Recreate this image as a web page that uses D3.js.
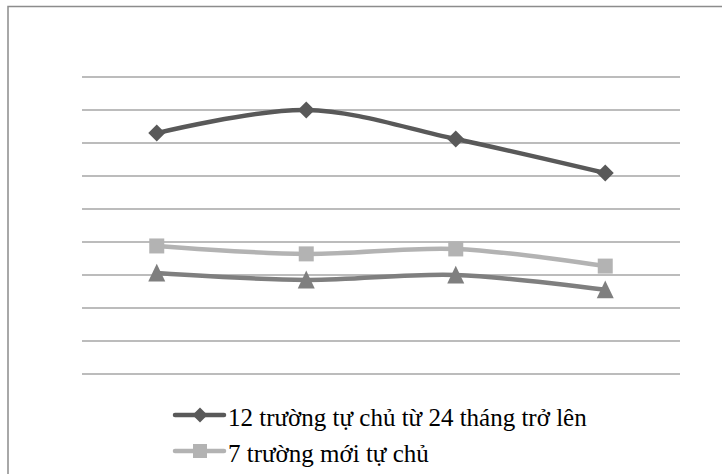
<!DOCTYPE html>
<html><head><meta charset="utf-8">
<script src="https://cdn.jsdelivr.net/npm/d3@7"></script>
<style>html,body{margin:0;padding:0;background:#fff;overflow:hidden}
.lg{font-family:"Liberation Serif","Times New Roman",Tinos,"DejaVu Serif",serif;font-size:25px;fill:#000}</style>
</head><body>
<svg id="c" width="722" height="474"></svg>
<script>
const categories = ["A", "B", "C", "D"];
const seriesNames = ["12 trường tự chủ từ 24 tháng trở lên", "7 trường mới tự chủ", "Trung bình"];
const s1 = [7.30, 8.0, 7.12, 6.09];
const s2 = [3.88, 3.64, 3.79, 3.27];
const s3 = [3.06, 2.85, 3.0, 2.55];
const yTicks = [0,1,2,3,4,5,6,7,8,9];

const svg = d3.select("#c");
svg.append("rect").attr("x", 8).attr("y", 6.5).attr("width", 760).attr("height", 520)
  .attr("fill", "#fff").attr("stroke", "#8c8c8c").attr("stroke-width", 1.5);

const x = d3.scaleBand().domain(categories).range([82, 680]);
const y = d3.scaleLinear().domain([0, 9]).range([374, 77]);

svg.append("g").selectAll("line").data(yTicks).join("line")
  .attr("x1", 82).attr("x2", 680)
  .attr("y1", d => y(d)).attr("y2", d => y(d))
  .attr("stroke", "#a6a6a6").attr("stroke-width", 1.6);

const cx = d => x(d) + x.bandwidth() / 2;
const line = d3.line().x((d, i) => cx(categories[i])).y(d => y(d)).curve(d3.curveCatmullRom.alpha(0.5));

function marker(kind, r) {
  if (kind === "diamond") return `M0,${-r}L${r},0L0,${r}L${-r},0Z`;
  if (kind === "square") return `M${-r},${-r}H${r}V${r}H${-r}Z`;
  return `M0,${-r*1.1}L${r},${r*1.0}L${-r},${r*1.0}Z`;
}

const series = [
  {vals: s1, color: "#595959", kind: "diamond", r: 8.5},
  {vals: s2, color: "#b3b3b3", kind: "square", r: 7.5},
  {vals: s3, color: "#7f7f7f", kind: "triangle", r: 8.5}
];

series.forEach(s => {
  svg.append("path").attr("d", line(s.vals)).attr("fill", "none")
    .attr("stroke", s.color).attr("stroke-width", 4.5).attr("stroke-linecap", "round");
});
series.forEach(s => {
  svg.append("g").selectAll("path").data(s.vals).join("path")
    .attr("d", marker(s.kind, s.r))
    .attr("transform", (d, i) => `translate(${cx(categories[i])},${y(d)})`)
    .attr("fill", s.color);
});

// legend
const leg = svg.append("g");
const legY = [415, 451];
[0, 1].forEach(k => {
  const s = series[k];
  leg.append("line").attr("x1", 175).attr("x2", 224).attr("y1", legY[k]).attr("y2", legY[k])
    .attr("stroke", s.color).attr("stroke-width", 4.5).attr("stroke-linecap", "round");
  leg.append("path").attr("d", marker(s.kind, k === 0 ? 7.5 : 7))
    .attr("transform", `translate(200,${legY[k]})`)
    .attr("fill", s.color);
  leg.append("text").attr("class", "lg").attr("x", 228).attr("y", legY[k] + 11)
    .text(seriesNames[k]);
});
</script>
</body></html>
